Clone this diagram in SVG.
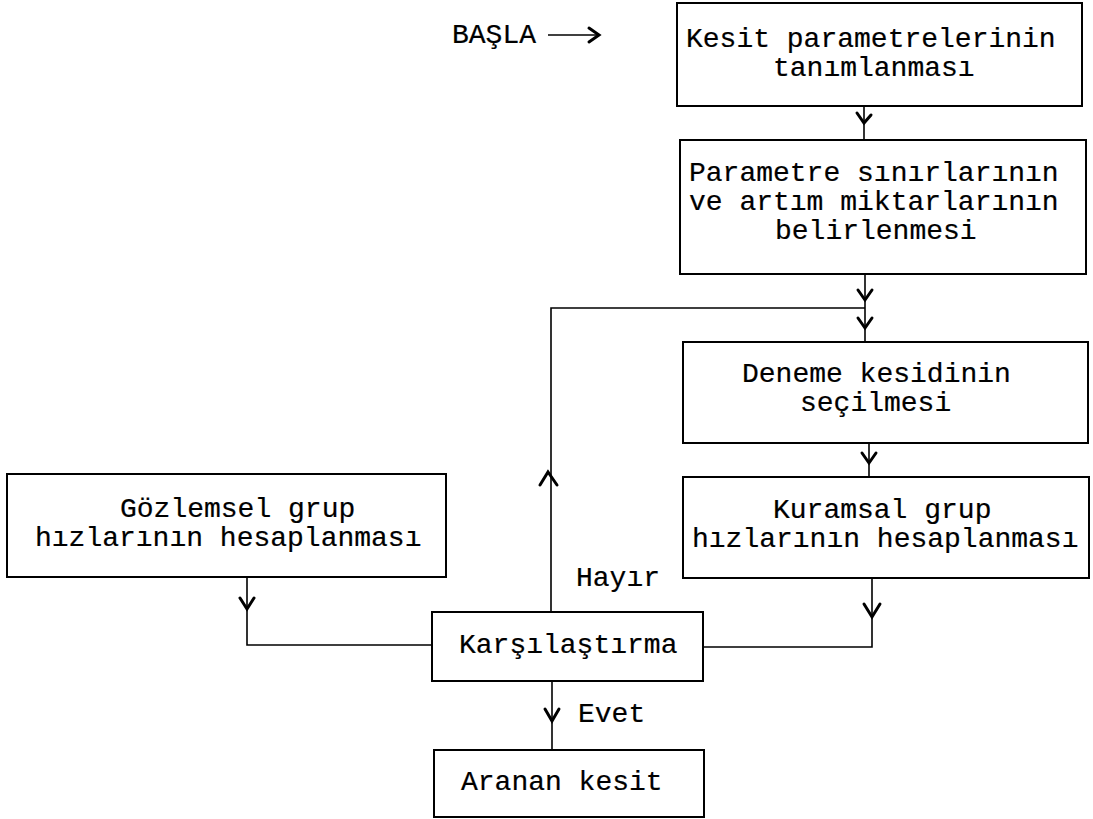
<svg xmlns="http://www.w3.org/2000/svg" width="1093" height="819" viewBox="0 0 1093 819">
<style>
.box{fill:#fff;stroke:#000;stroke-width:2}
.t{font-family:"Liberation Mono","Courier New",monospace;font-size:28px;fill:#000;stroke:#000;stroke-width:0.2}
.ln{fill:none;stroke:#000;stroke-width:1.6}
.hd{fill:none;stroke:#000;stroke-width:3;stroke-linejoin:miter;stroke-linecap:round}
</style>
<rect width="1093" height="819" fill="#fff"/>
<g id="connectors">
  <!-- start arrow -->
  <path class="ln" d="M548 35 H598"/>
  <path class="hd" d="M589 28 L599 35 L589 42"/>
  <!-- box1 to box2 -->
  <path class="ln" d="M864 106 V140"/>
  <path class="hd" d="M857 113 L864 123 L871 115"/>
  <!-- box2 to box3 -->
  <path class="ln" d="M865 274 V342"/>
  <path class="hd" d="M858 290 L865 300 L872 290"/>
  <path class="hd" d="M858 318 L865 328 L872 318"/>
  <!-- loop back -->
  <path class="ln" d="M551 612 V308 H865"/>
  <path class="hd" d="M540 485 L548 472 L557 485"/>
  <!-- box3 to box4 -->
  <path class="ln" d="M869 443 V477"/>
  <path class="hd" d="M862 453 L869 463 L876 453"/>
  <!-- Gozlemsel to Karsilastirma -->
  <path class="ln" d="M247 577 V645 H432"/>
  <path class="hd" d="M240 598 L247 609 L254 598"/>
  <!-- Kuramsal to Karsilastirma -->
  <path class="ln" d="M872 578 V647 H703"/>
  <path class="hd" d="M864 604 L872 617 L880 604"/>
  <!-- Evet -->
  <path class="ln" d="M552 681 V750"/>
  <path class="hd" d="M545 709 L552 721 L559 709"/>
</g>
<g id="start"><text class="t" x="452" y="43">BAŞLA</text></g>
<g id="n1">
  <rect class="box" x="677" y="3" width="405" height="103"/>
  <text class="t" x="686" y="47">Kesit parametrelerinin</text>
  <text class="t" x="773" y="76">tanımlanması</text>
</g>
<g id="n2">
  <rect class="box" x="680" y="140" width="406" height="134"/>
  <text class="t" x="689" y="181">Parametre sınırlarının</text>
  <text class="t" x="689" y="210">ve artım miktarlarının</text>
  <text class="t" x="775" y="239">belirlenmesi</text>
</g>
<g id="n3">
  <rect class="box" x="683" y="342" width="405" height="101"/>
  <text class="t" x="742" y="382">Deneme kesidinin</text>
  <text class="t" x="800" y="411">seçilmesi</text>
</g>
<g id="n4">
  <rect class="box" x="683" y="477" width="406" height="101"/>
  <text class="t" x="773" y="518">Kuramsal grup</text>
  <text class="t" x="692" y="547">hızlarının hesaplanması</text>
</g>
<g id="n5">
  <rect class="box" x="7" y="474" width="439" height="103"/>
  <text class="t" x="120" y="517">Gözlemsel grup</text>
  <text class="t" x="35" y="546">hızlarının hesaplanması</text>
</g>
<g id="n6">
  <rect class="box" x="432" y="612" width="271" height="69"/>
  <text class="t" x="459" y="653">Karşılaştırma</text>
</g>
<g id="n7">
  <rect class="box" x="434" y="750" width="270" height="67"/>
  <text class="t" x="461" y="790">Aranan kesit</text>
</g>
<g id="labels">
  <text class="t" x="576" y="586">Hayır</text>
  <text class="t" x="578" y="722">Evet</text>
</g>
</svg>
